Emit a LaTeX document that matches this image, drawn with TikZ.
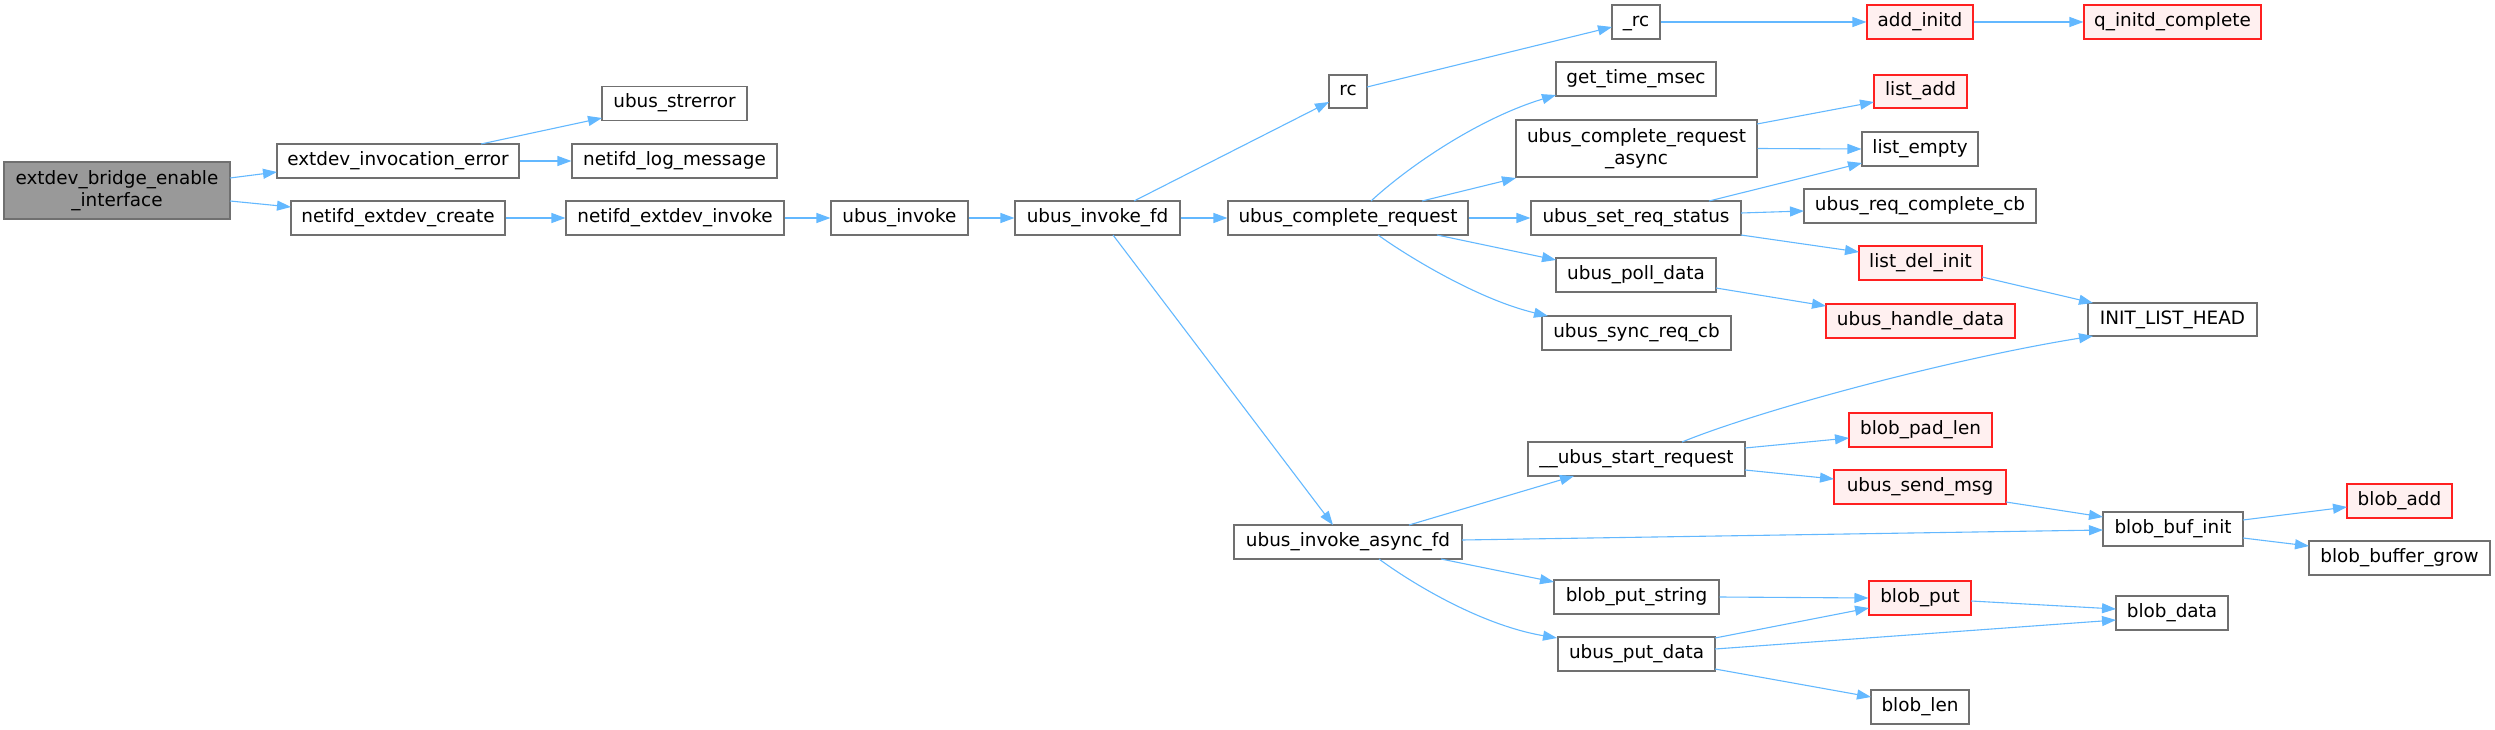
\documentclass[tikz,border=0pt]{standalone}
\usepackage{fontspec}
\setmainfont{DejaVu Sans}
\usetikzlibrary{arrows.meta,calc}
\definecolor{edgec}{HTML}{63B8FF}
\definecolor{nodeb}{HTML}{707070}
\definecolor{redb}{HTML}{FF2020}
\definecolor{redfill}{HTML}{FFF0F0}
\definecolor{rootfill}{HTML}{999999}
\begin{document}
\begin{tikzpicture}[x=1pt,y=-1pt,
  nd/.style={draw=nodeb, fill=white, line width=1.1pt, inner sep=0pt,
    font=\fontsize{18.4}{22.5}\selectfont, text height=13.5pt, text depth=4.5pt},
  ndtwo/.style={draw=nodeb, fill=white, line width=1.1pt, inner sep=0pt,
    font=\fontsize{18.4}{22.5}\selectfont, align=center},
  rednd/.style={nd, draw=redb, fill=redfill},
  rootnd/.style={ndtwo, fill=rootfill},
  ed/.style={draw=edgec, line width=1.1pt, -{Triangle[length=14pt,width=10pt]}}]
\useasboundingbox (0,0) rectangle (2495,730);

% nodes
\node[rootnd, minimum width=226pt, minimum height=57pt] (bridge) at (117,190.5) {extdev\_bridge\_enable\\\_interface};
\node[nd, minimum width=242pt, minimum height=34pt] (inverr) at (398,161) {extdev\_invocation\_error};
\node[nd, minimum width=214pt, minimum height=34pt] (create) at (398,218) {netifd\_extdev\_create};
\node[nd, minimum width=145pt, minimum height=34pt] (strerror) at (674.5,103.5) {ubus\_strerror};
\node[nd, minimum width=205pt, minimum height=34pt] (logmsg) at (674.5,161) {netifd\_log\_message};
\node[nd, minimum width=218pt, minimum height=34pt] (invoke) at (675,218) {netifd\_extdev\_invoke};
\node[nd, minimum width=137pt, minimum height=34pt] (ubinv) at (899.5,218) {ubus\_invoke};
\node[nd, minimum width=165pt, minimum height=34pt] (ifd) at (1097.5,218) {ubus\_invoke\_fd};
\node[nd, minimum width=38pt, minimum height=33pt] (rc) at (1348,91.5) {rc};
\node[nd, minimum width=240pt, minimum height=34pt] (cr) at (1348,218) {ubus\_complete\_request};
\node[nd, minimum width=228pt, minimum height=34pt] (afd) at (1348,542) {ubus\_invoke\_async\_fd};
\node[nd, minimum width=48pt, minimum height=34pt] (urc) at (1636,22) {\_rc};
\node[nd, minimum width=160pt, minimum height=34pt] (gtm) at (1636,79) {get\_time\_msec};
\node[ndtwo, minimum width=241pt, minimum height=57pt] (cra) at (1636.5,148.5) {ubus\_complete\_request\\\_async};
\node[nd, minimum width=210pt, minimum height=34pt] (srs) at (1636,218) {ubus\_set\_req\_status};
\node[nd, minimum width=160pt, minimum height=34pt] (poll) at (1636,275) {ubus\_poll\_data};
\node[nd, minimum width=189pt, minimum height=34pt] (sync) at (1636.5,333) {ubus\_sync\_req\_cb};
\node[nd, minimum width=217pt, minimum height=34pt] (start) at (1636.5,459) {\_\_ubus\_start\_request};
\node[nd, minimum width=165pt, minimum height=34pt] (bps) at (1636.5,597) {blob\_put\_string};
\node[nd, minimum width=157pt, minimum height=34pt] (pud) at (1636.5,654) {ubus\_put\_data};
\node[rednd, minimum width=106pt, minimum height=34pt] (addinitd) at (1920,22) {add\_initd};
\node[rednd, minimum width=177pt, minimum height=34pt] (qinit) at (2172.5,22) {q\_initd\_complete};
\node[rednd, minimum width=93pt, minimum height=33pt] (listadd) at (1920.5,91.5) {list\_add};
\node[nd, minimum width=116pt, minimum height=34pt] (listempty) at (1920,149) {list\_empty};
\node[nd, minimum width=232pt, minimum height=34pt] (reqcb) at (1920,206) {ubus\_req\_complete\_cb};
\node[rednd, minimum width=123pt, minimum height=34pt] (ldi) at (1920.5,263) {list\_del\_init};
\node[rednd, minimum width=189pt, minimum height=34pt] (uhd) at (1920.5,321) {ubus\_handle\_data};
\node[nd, minimum width=169pt, minimum height=33pt] (ilh) at (2172.5,319.5) {INIT\_LIST\_HEAD};
\node[rednd, minimum width=143pt, minimum height=34pt] (bpl) at (1920.5,430) {blob\_pad\_len};
\node[rednd, minimum width=172pt, minimum height=34pt] (usm) at (1920,487) {ubus\_send\_msg};
\node[nd, minimum width=140pt, minimum height=34pt] (bbi) at (2173,529) {blob\_buf\_init};
\node[rednd, minimum width=105pt, minimum height=34pt] (badd) at (2399.5,501) {blob\_add};
\node[nd, minimum width=181pt, minimum height=34pt] (bbg) at (2399.5,558) {blob\_buffer\_grow};
\node[rednd, minimum width=102pt, minimum height=34pt] (bput) at (1920,598) {blob\_put};
\node[nd, minimum width=112pt, minimum height=34pt] (bdata) at (2172,613) {blob\_data};
\node[nd, minimum width=98pt, minimum height=34pt] (blen) at (1920,707) {blob\_len};

% edges
\draw[ed] ($(bridge)+(113,-12.5)$) -- ($(inverr)+(-121,11)$);
\draw[ed] ($(bridge)+(113,10.5)$) -- ($(create)+(-107,-11)$);
\draw[ed] ($(inverr)+(83,-17)$) -- ($(strerror)+(-72.5,14.5)$);
\draw[ed] (inverr.east) -- (logmsg.west);
\draw[ed] (create.east) -- (invoke.west);
\draw[ed] (invoke.east) -- (ubinv.west);
\draw[ed] (ubinv.east) -- (ifd.west);
\draw[ed] ($(ifd)+(36.5,-17)$) -- ($(rc)+(-19,10.5)$);
\draw[ed] (ifd.east) -- (cr.west);
\draw[ed] ($(ifd)+(15.5,17)$) -- ($(afd)+(-15,-17)$);
\draw[ed] ($(rc)+(19,-4.5)$) -- ($(urc)+(-24,5)$);
\draw[ed] (urc.east) -- (addinitd.west);
\draw[ed] (addinitd.east) -- (qinit.west);
\draw[ed] ($(cr)+(23,-17)$) .. controls +(39,-36) and +(-76,23) .. ($(gtm)+(-80,16)$);
\draw[ed] ($(cr)+(74,-17)$) -- ($(cra)+(-120.5,29.5)$);
\draw[ed] (cr.east) -- (srs.west);
\draw[ed] ($(cr)+(89,17)$) -- ($(poll)+(-80,-15)$);
\draw[ed] ($(cr)+(30,17)$) .. controls +(32,23) and +(-68,-16) .. ($(sync)+(-88.5,-17)$);
\draw[ed] ($(cra)+(120.5,-24.5)$) -- ($(listadd)+(-46.5,10.5)$);
\draw[ed] (cra.east) -- (listempty.west);
\draw[ed] ($(srs)+(73,-17)$) -- ($(listempty)+(-58,14)$);
\draw[ed] ($(srs)+(105,-5)$) -- ($(reqcb)+(-116,5)$);
\draw[ed] ($(srs)+(105,17)$) -- ($(ldi)+(-61.5,-11)$);
\draw[ed] ($(poll)+(80,13)$) -- ($(uhd)+(-94.5,-15)$);
\draw[ed] ($(ldi)+(61.5,14)$) -- ($(ilh)+(-79.5,-16.5)$);
\draw[ed] ($(start)+(45.5,-17)$) .. controls +(78,-32) and +(-143,23) .. ($(ilh)+(-79.5,16.5)$);
\draw[ed] ($(start)+(108.5,-11)$) -- ($(bpl)+(-71.5,8)$);
\draw[ed] ($(start)+(108.5,11)$) -- ($(usm)+(-86,-8)$);
\draw[ed] ($(usm)+(86,15)$) -- ($(bbi)+(-70,-12)$);
\draw[ed] ($(afd)+(61,-17)$) -- ($(start)+(-62.5,17)$);
\draw[ed] ($(afd)+(114,-2)$) -- ($(bbi)+(-70,1)$);
\draw[ed] ($(afd)+(93,17)$) -- ($(bps)+(-82.5,-15)$);
\draw[ed] ($(afd)+(31,17)$) .. controls +(31,23) and +(-77,-13) .. ($(pud)+(-79.5,-16)$);
\draw[ed] (bps.east) -- (bput.west);
\draw[ed] ($(pud)+(78.5,-16)$) -- ($(bput)+(-51,10)$);
\draw[ed] ($(pud)+(78.5,-5)$) -- ($(bdata)+(-56,7)$);
\draw[ed] ($(pud)+(78.5,15)$) -- ($(blen)+(-49,-10)$);
\draw[ed] ($(bput)+(51,3)$) -- ($(bdata)+(-56,-4)$);
\draw[ed] ($(bbi)+(70,-9)$) -- ($(badd)+(-52.5,6)$);
\draw[ed] ($(bbi)+(70,9)$) -- ($(bbg)+(-90.5,-12)$);
\end{tikzpicture}
\end{document}
